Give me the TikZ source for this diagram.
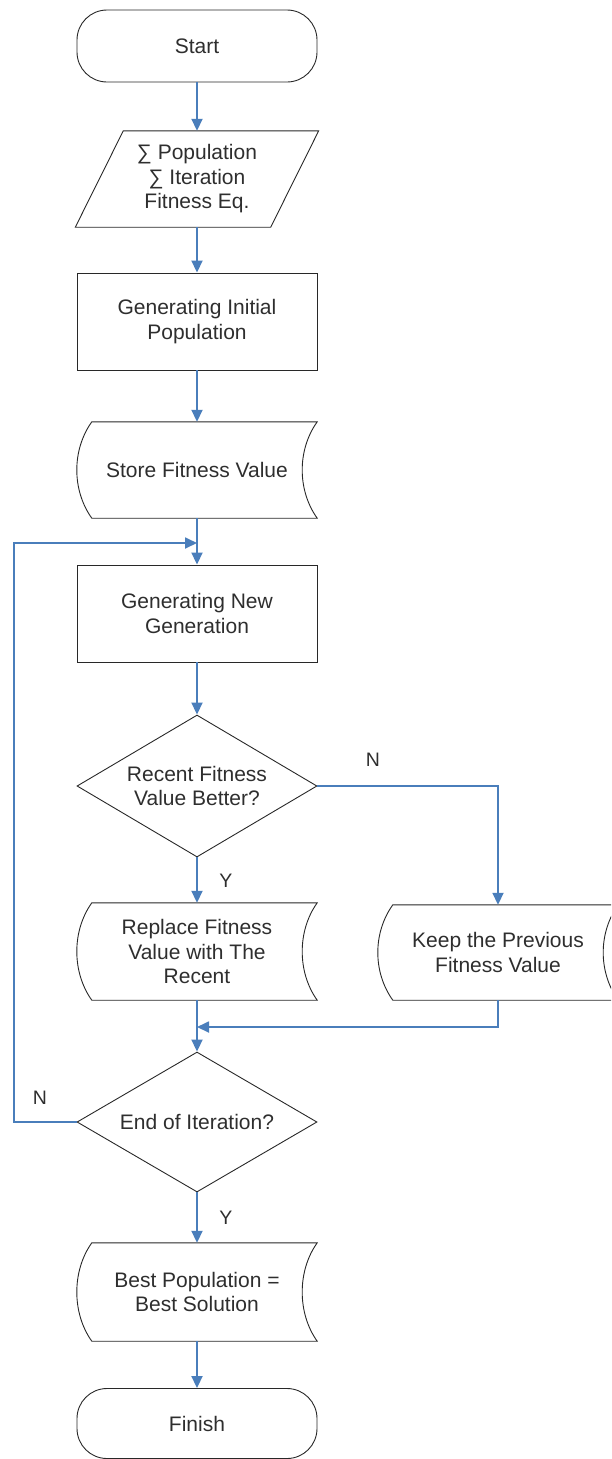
\documentclass[tikz,border=0pt]{standalone}
\usepackage{fontspec}
\setmainfont{Liberation Sans}
\usetikzlibrary{arrows.meta,shapes.geometric}
\definecolor{flowblue}{RGB}{74,126,187}
\definecolor{edgegray}{RGB}{40,40,40}

% outline of a stored-data symbol around a rectangular node
\newcommand{\storedshape}[1]{%
  \draw[outline] ([xshift=15pt]#1.north west) -- (#1.north east)
    .. controls ([xshift=-20pt,yshift=-28pt]#1.north east) and ([xshift=-20pt,yshift=28pt]#1.south east) .. (#1.south east)
    -- ([xshift=15pt]#1.south west)
    .. controls ([xshift=-5pt,yshift=28pt]#1.south west) and ([xshift=-5pt,yshift=-28pt]#1.north west) .. ([xshift=15pt]#1.north west) -- cycle;}

\begin{document}
\begin{tikzpicture}[x=1pt,y=-1pt,
  every node/.style={font=\fontsize{21}{24.5}\selectfont, text=black!82, align=center, inner sep=0pt},
  outline/.style={draw=edgegray, line width=0.9pt},
  terminal/.style={outline, rounded corners=30pt, minimum width=240pt, minimum height=72pt},
  procbox/.style={outline, minimum width=240pt, minimum height=97pt},
  decision/.style={outline, diamond, minimum width=240pt, minimum height=142pt, shape aspect=1.69},
  frame/.style={minimum width=240pt, minimum height=97pt},
  flow/.style={draw=flowblue, line width=1.8pt, -{Triangle[length=12pt,width=11pt]}},
  tag/.style={font=\fontsize{19.5}{22}\selectfont}
]
\useasboundingbox (0,0) rectangle (611,1459);
\clip (0,0) rectangle (611,1459);

% main column
\node[terminal] (start) at (197,46) {Start};
\node[frame, minimum width=243pt, minimum height=96pt] (input) at (197,179)
  {∑ Population\\∑ Iteration\\Fitness Eq.};
\draw[outline] ([xshift=48pt]input.north west) -- (input.north east)
  -- ([xshift=-48pt]input.south east) -- (input.south west) -- cycle;
\node[procbox] (init) at (197,321.5) {Generating Initial\\Population};
\node[frame, minimum height=96pt] (store) at (197,470) {Store Fitness Value};
\storedshape{store}
\node[procbox] (newgen) at (197,613.5) {Generating New\\Generation};
\node[decision] (better) at (197,786) {Recent Fitness\\Value Better?};
\node[frame] (replace) at (197,951.5) {Replace Fitness\\Value with The\\Recent};
\storedshape{replace}
\node[frame, minimum height=95pt] (keep) at (498,952.5) {Keep the Previous\\Fitness Value};
\storedshape{keep}
\node[decision, minimum height=140pt] (done) at (197,1122) {End of Iteration?};
\node[frame, minimum height=98pt] (best) at (197,1292) {Best Population =\\Best Solution};
\storedshape{best}
\node[terminal, minimum height=70pt] (finish) at (197,1423.5) {Finish};

% branch labels
\node[tag] (nbetter) at (373,760) {N};
\node[tag] (ybetter) at (226,881) {Y};
\node[tag] (ndone) at (40,1098) {N};
\node[tag] (ydone) at (226,1218) {Y};

% junction points on the main column
\coordinate (loopin) at (197,543);
\coordinate (merge) at (197,1027);
\coordinate (lowcorner) at (14,1122);
\coordinate (highcorner) at (14,543);

% connectors
\draw[flow] (start.south) -- (input.north);
\draw[flow] (input.south) -- (init.north);
\draw[flow] (init.south) -- (store.north);
\draw[flow] (store.south) -- (newgen.north);
\draw[flow] (newgen.south) -- (better.north);
\draw[flow] (better.south) -- (replace.north);
\draw[flow] (better.east) -| (keep.north);
\draw[flow] (replace.south) -- (done.north);
\draw[flow] (keep.south) |- (merge);
\draw[flow] (done.west) -- (lowcorner) -- (highcorner) -- (loopin);
\draw[flow] (done.south) -- (best.north);
\draw[flow] (best.south) -- (finish.north);
\end{tikzpicture}
\end{document}
